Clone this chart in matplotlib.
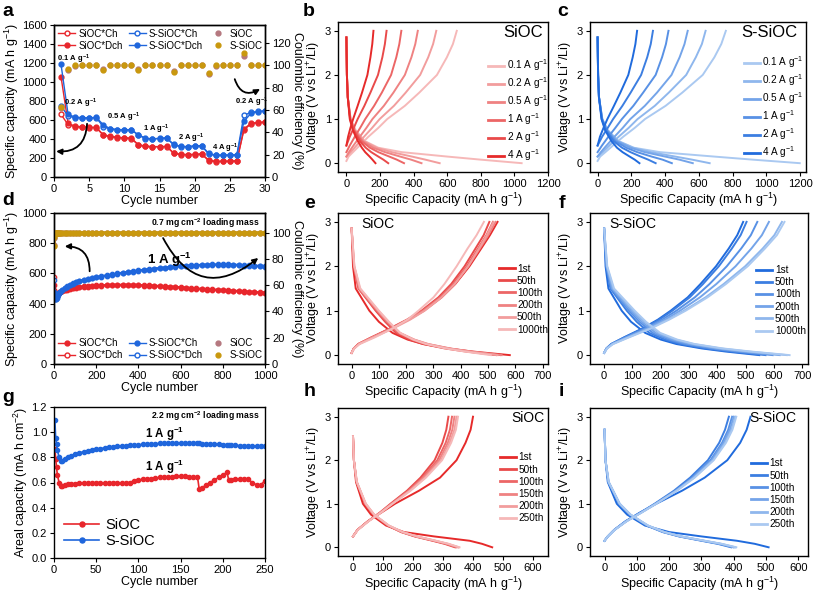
import numpy as np
import matplotlib
matplotlib.use("Agg")
import matplotlib.pyplot as plt
from matplotlib.lines import Line2D

NA = np.nan

# ---------------- panel a : rate test ----------------
rate_cycles = [1, 2, 3, 4, 5, 6, 7, 8, 9, 10, 11, 12, 13, 14, 15, 16, 17, 18, 19, 20,
               21, 22, 23, 24, 25, 26, 27, 28, 29, 30]
sioc_ch_a = [660, 550, 530, 525, 520, 520, 440, 425, 415, 410, 405, 335, 322, 318, 318,
             320, 250, 236, 235, 236, 240, 172, 162, 164, 165, 168, 495, 560, 572, 575]
sioc_dch_a = [1055, 565, 535, 528, 522, 522, 445, 428, 418, 412, 408, 340, 325, 320, 320,
              322, 255, 238, 236, 238, 242, 178, 165, 165, 166, 170, 505, 565, 575, 578]
ssioc_ch_a = [750, 640, 625, 622, 620, 625, 530, 505, 498, 495, 495, 440, 405, 400, 405,
              410, 340, 318, 318, 325, 328, 240, 228, 228, 230, 232, 650, 680, 690, 695]
ssioc_dch_a = [1185, 660, 630, 625, 622, 628, 550, 508, 500, 497, 497, 445, 408, 402, 407,
               412, 345, 322, 320, 327, 330, 248, 230, 230, 232, 235, 585, 670, 688, 694]
ce_sioc_a = [62, 96, 99, 100, 100, 100, 97, 100, 100, 100, 100, 97, 100, 100, 100,
             100, 95, 100, 100, 100, 100, 92, 99, 100, 100, 100, 108, 100, 100, 100]
ce_ssioc_a = [63, 97, 100, 100, 100, 100, 96, 100, 100, 100, 100, 96, 100, 100, 100,
              100, 94, 100, 100, 100, 100, 93, 100, 100, 100, 100, 111, 100, 100, 100]
rate_notes = ['0.1 A g$^{-1}$', '0.2 A g$^{-1}$', '0.5 A g$^{-1}$', '1 A g$^{-1}$',
              '2 A g$^{-1}$', '4 A g$^{-1}$', '0.2 A g$^{-1}$']
rate_note_x = [0.4, 1.4, 7.6, 12.7, 17.6, 22.4, 25.7]
rate_note_y = [1240, 780, 630, 500, 410, 300, 790]

# ---------------- panel d : long cycling, 0.7 mg ----------------
long_cycles = [1, 2, 3, 5, 8, 12, 16, 20, 25, 30, 40, 50, 60, 75, 90, 105, 120, 140, 160, 180,
               200, 225, 250, 275, 300, 325, 350, 375, 400, 425, 450, 475, 500, 525, 550, 575,
               600, 625, 650, 675, 700, 725, 750, 775, 800, 825, 850, 875, 900, 925, 950, 975, 1000]
sioc_ch_d = [520, 470, 452, 442, 443, 450, 458, 465, 471, 476, 483, 489, 493, 498, 502, 505, 508,
             511, 513, 515, 517, 518, 520, 521, 522, 522, 522, 521, 520, 519, 517, 516, 514, 512,
             510, 508, 505, 503, 500, 498, 495, 493, 491, 489, 487, 485, 483, 481, 478, 476, 474,
             472, 470]
sioc_dch_d = [575, 490, 460, 446, 446, 453, 461, 468, 474, 479, 486, 492, 496, 501, 505, 508, 511,
              514, 516, 518, 520, 521, 523, 524, 525, 525, 525, 524, 523, 522, 520, 519, 517, 515,
              513, 511, 508, 506, 503, 501, 498, 496, 494, 492, 490, 488, 486, 484, 481, 479, 477,
              475, 473]
ssioc_ch_d = [480, 450, 438, 428, 430, 440, 450, 458, 467, 476, 490, 502, 511, 522, 532, 540, 547,
              554, 561, 567, 573, 579, 585, 590, 597, 602, 607, 612, 617, 621, 625, 629, 633, 636,
              640, 643, 646, 648, 650, 652, 654, 655, 656, 657, 657, 656, 655, 654, 652, 650, 649,
              647, 645]
ssioc_dch_d = [555, 470, 445, 431, 433, 443, 453, 461, 470, 479, 493, 505, 514, 525, 535, 543, 550,
               557, 564, 570, 576, 582, 588, 593, 600, 605, 610, 615, 620, 624, 628, 632, 636, 639,
               643, 646, 649, 651, 653, 655, 657, 658, 659, 660, 660, 659, 658, 657, 655, 653, 652,
               650, 648]
ce_sioc_d = [91, 96, 99, 99.5, 100, 100, 100, 100, 100, 100, 100, 100, 100, 100, 100, 100, 100,
             100, 100, 100, 100, 100, 100, 100, 100, 100, 100, 100, 100, 100, 100, 100, 100, 100,
             100, 100, 100, 100, 100, 100, 100, 100, 100, 100, 100, 100, 100, 100, 100, 100, 100,
             100, 100]
ce_ssioc_d = [89.6, 97, 99, 99.6, 100, 100, 100, 100, 100, 100, 100, 100, 100, 100, 100, 100, 100,
              100, 100, 100, 100, 100, 100, 100, 100, 100, 100, 100, 100, 100, 100, 100, 100, 100,
              100, 100, 100, 100, 100, 100, 100, 100, 100, 100, 100, 100, 100, 100, 100, 100, 100,
              100, 100]

# ---------------- panel g : areal capacity, 2.2 mg ----------------
areal_cycles = [1, 2, 3, 4, 6, 8, 10, 13, 16, 20, 25, 30, 35, 40, 45, 50, 55, 60, 65, 70, 75,
                80, 85, 90, 95, 100, 105, 110, 115, 120, 125, 130, 135, 140, 145, 150, 155, 160,
                165, 170, 172, 175, 180, 185, 190, 195, 200, 205, 207, 210, 215, 220, 225, 230,
                235, 240, 245, 250]
sioc_g = [0.87, 0.79, 0.72, 0.66, 0.60, 0.575, 0.575, 0.58, 0.585, 0.59,
          0.59, 0.595, 0.595, 0.595, 0.595, 0.60, 0.60, 0.595, 0.595, 0.60, 0.60, 0.595, 0.598,
          0.60, 0.615, 0.62, 0.625, 0.63, 0.63, 0.635, 0.64, 0.64, 0.645, 0.645, 0.65, 0.65,
          0.648, 0.645, 0.645, 0.645,
          0.55,
          0.555, 0.58, 0.60, 0.62, 0.64, 0.66, 0.68,
          0.62,
          0.62, 0.625, 0.63, 0.63, 0.625, 0.60, 0.58, 0.58, 0.615]
ssioc_g = [1.10, 0.95, 0.905, 0.86, 0.80, 0.77, 0.77, 0.785, 0.80, 0.81,
           0.825, 0.835, 0.845, 0.85, 0.86, 0.865, 0.87, 0.875, 0.88, 0.885, 0.887, 0.89, 0.893,
           0.895, 0.898, 0.90, 0.902, 0.905, 0.907, 0.908, 0.91, 0.91, 0.912, 0.912, 0.912,
           0.912, 0.912, 0.911, 0.91, 0.91,
           0.91,
           0.909, 0.908, 0.907, 0.905, 0.903, 0.90, 0.899,
           0.898,
           0.897, 0.895, 0.893, 0.892, 0.89, 0.89, 0.888, 0.888, 0.887]

# ---------------- voltage profiles ----------------
# charge curves are read at these voltages, discharge curves at the next lists
ch_volts = [0.05, 0.15, 0.25, 0.4, 0.6, 0.8, 1.0, 1.3, 1.6, 2.0, 2.4, 2.7, 3.0]
dis_volts = [2.85, 2.0, 1.5, 1.0, 0.75, 0.5, 0.35, 0.25, 0.15, 0.08, 0.0]
dis_volts_h = [2.55, 2.0, 1.5, 1.0, 0.75, 0.5, 0.35, 0.25, 0.15, 0.08, 0.0]
dis_volts_i = [2.7, 2.0, 1.5, 1.0, 0.75, 0.5, 0.35, 0.25, 0.15, 0.08, 0.0]

rate_labels = ['0.1 A g$^{-1}$', '0.2 A g$^{-1}$', '0.5 A g$^{-1}$', '1 A g$^{-1}$',
               '2 A g$^{-1}$', '4 A g$^{-1}$']
b_charge = [[0, 13, 39, 79, 131, 190, 243, 348, 434, 539, 598, 634, 657],
            [NA, 0, 25, 60, 105, 153, 198, 283, 353, 439, 487, 516, 535],
            [NA, 0, 15, 42, 80, 119, 155, 223, 280, 348, 387, 410, 425],
            [NA, NA, 0, 20, 50, 82, 112, 165, 211, 266, 297, 315, 327],
            [NA, NA, NA, 0, 20, 44, 67, 107, 143, 188, 214, 229, 239],
            [NA, NA, NA, 0, 10, 24, 40, 67, 93, 125, 143, 154, 161]]
b_discharge = [[0, 3, 8, 25, 55, 110, 190, 330, 600, 800, 1043],
               [0, 3, 8, 25, 50, 105, 180, 270, 390, 470, 555],
               [0, 3, 8, 24, 48, 98, 160, 230, 320, 385, 447],
               [0, 3, 8, 23, 45, 90, 140, 190, 255, 300, 343],
               [0, 3, 8, 22, 42, 80, 115, 148, 190, 220, 249],
               [0, 3, 8, 20, 38, 68, 92, 112, 138, 155, 173]]
c_charge = [[0, 15, 46, 91, 152, 220, 281, 403, 502, 623, 692, 733, 760],
            [NA, 0, 30, 70, 125, 184, 237, 339, 422, 525, 582, 618, 640],
            [NA, 0, 19, 53, 100, 149, 194, 280, 352, 438, 486, 515, 534],
            [NA, NA, 0, 26, 64, 105, 144, 212, 270, 344, 382, 405, 420],
            [NA, NA, NA, 0, 27, 60, 92, 147, 196, 258, 294, 315, 328],
            [NA, NA, NA, 0, 14, 35, 58, 97, 135, 182, 208, 224, 234]]
c_discharge = [[0, 3, 8, 28, 60, 125, 215, 370, 690, 920, 1198],
               [0, 3, 8, 28, 58, 120, 210, 315, 460, 560, 664],
               [0, 3, 8, 27, 55, 115, 195, 280, 400, 485, 564],
               [0, 3, 8, 26, 52, 105, 170, 235, 320, 385, 440],
               [0, 3, 8, 25, 48, 95, 145, 195, 255, 300, 344],
               [0, 3, 8, 23, 44, 82, 115, 148, 190, 220, 248]]

long_labels = ['1st', '50th', '100th', '200th', '500th', '1000th']
e_charge = [[0, 8, 25, 75, 145, 210, 265, 330, 380, 432, 475, 507, 535],
            [0, 8, 24, 72, 140, 203, 256, 318, 365, 414, 454, 484, 505],
            [0, 8, 25, 74, 143, 207, 260, 323, 372, 422, 463, 494, 518],
            [0, 8, 25, 75, 145, 210, 264, 328, 377, 428, 470, 501, 528],
            [0, 9, 27, 80, 152, 215, 268, 330, 378, 427, 467, 496, 520],
            [0, 10, 30, 85, 150, 205, 245, 300, 340, 385, 425, 458, 485]]
e_discharge = [[0, 5, 15, 65, 100, 150, 205, 262, 352, 445, 580],
               [0, 8, 25, 88, 123, 163, 212, 262, 342, 420, 530],
               [0, 8, 26, 92, 128, 170, 222, 273, 355, 433, 545],
               [0, 9, 28, 95, 132, 175, 228, 280, 362, 440, 550],
               [0, 10, 30, 98, 135, 178, 230, 280, 358, 430, 535],
               [0, 10, 32, 100, 137, 178, 225, 272, 345, 415, 510]]
f_charge = [[0, 8, 25, 70, 135, 190, 235, 295, 340, 395, 440, 470, 491],
            [0, 8, 25, 72, 138, 195, 241, 302, 349, 405, 451, 482, 503],
            [0, 8, 26, 76, 145, 205, 255, 320, 372, 433, 484, 518, 541],
            [0, 9, 28, 80, 152, 215, 268, 338, 396, 464, 520, 557, 582],
            [0, 10, 30, 85, 160, 225, 282, 358, 422, 498, 560, 601, 628],
            [0, 10, 32, 88, 165, 230, 288, 365, 430, 507, 568, 610, 637]]
f_discharge = [[0, 5, 15, 62, 95, 145, 200, 255, 345, 430, 548],
               [0, 7, 22, 80, 115, 160, 215, 270, 360, 450, 570],
               [0, 8, 25, 88, 125, 172, 228, 285, 378, 470, 595],
               [0, 9, 28, 95, 133, 182, 240, 300, 395, 490, 620],
               [0, 10, 32, 102, 142, 192, 252, 314, 412, 510, 645],
               [0, 11, 35, 108, 148, 198, 258, 320, 420, 520, 655]]

hi_labels = ['1st', '50th', '100th', '150th', '200th', '250th']
h_charge = [[NA, NA, 0, 15, 50, 95, 140, 220, 290, 345, 375, 392, 400],
            [NA, NA, 0, 15, 50, 90, 125, 180, 225, 272, 298, 311, 318],
            [NA, NA, 0, 15, 50, 91, 127, 184, 231, 281, 309, 323, 330],
            [NA, NA, 0, 15, 51, 92, 129, 187, 235, 287, 316, 331, 338],
            [NA, NA, 0, 16, 52, 93, 131, 190, 240, 293, 322, 338, 345],
            [NA, NA, 0, 16, 52, 94, 132, 192, 243, 297, 327, 343, 350]]
h_discharge = [[0, 3, 10, 33, 60, 110, 170, 270, 389, 430, 464],
               [0, 3, 12, 40, 68, 115, 160, 205, 265, 305, 340],
               [0, 3, 12, 41, 69, 117, 162, 208, 269, 310, 345],
               [0, 3, 12, 42, 70, 118, 164, 211, 273, 314, 350],
               [0, 3, 13, 42, 70, 119, 165, 212, 275, 316, 352],
               [0, 3, 13, 43, 71, 120, 166, 214, 277, 319, 355]]
i_charge = [[NA, 0, 10, 30, 65, 110, 160, 240, 310, 380, 420, 440, 452],
            [NA, 0, 10, 30, 67, 112, 155, 215, 265, 320, 355, 373, 385],
            [NA, 0, 10, 30, 67, 113, 157, 219, 271, 328, 364, 383, 395],
            [NA, 0, 10, 31, 68, 114, 158, 221, 274, 332, 368, 388, 400],
            [NA, 0, 10, 31, 68, 115, 160, 223, 277, 336, 373, 393, 405],
            [NA, 0, 10, 31, 69, 115, 160, 224, 279, 338, 376, 396, 408]]
i_discharge = [[0, 3, 10, 38, 70, 125, 200, 300, 410, 465, 508],
               [0, 3, 12, 45, 78, 130, 180, 230, 300, 350, 392],
               [0, 3, 12, 46, 79, 132, 182, 233, 304, 355, 398],
               [0, 3, 12, 46, 80, 133, 184, 235, 307, 358, 402],
               [0, 3, 13, 47, 80, 134, 185, 237, 309, 361, 405],
               [0, 3, 13, 47, 81, 135, 186, 238, 311, 363, 408]]

RED = '#e8262c'
BLUE = '#1f66dc'
GOLD = '#c9980e'
MAUVE = '#b5787f'
reds = ['#f6b8b8', '#f29d9d', '#ef8282', '#ec6666', '#e94a4a', '#e62a2a']
blues = ['#aac9f1', '#8fb7ed', '#74a4e9', '#5891e5', '#3c7ee1', '#206bdd']

W, H = 813, 593

plt.rcParams['font.family'] = ['Liberation Sans', 'DejaVu Sans']
plt.rcParams['mathtext.default'] = 'regular'
plt.rcParams['axes.linewidth'] = 1.0
plt.rcParams['xtick.labelsize'] = 8
plt.rcParams['ytick.labelsize'] = 8
plt.rcParams['xtick.major.size'] = 3
plt.rcParams['ytick.major.size'] = 3
plt.rcParams['xtick.major.pad'] = 2
plt.rcParams['ytick.major.pad'] = 2
plt.rcParams['axes.labelsize'] = 9
plt.rcParams['axes.labelpad'] = 1


# pixel box (left, top, right, bottom) -> figure fraction rect
def box(l, t, r, b):
    return [l / W, 1 - b / H, (r - l) / W, (b - t) / H]


# curved black arrow used in a and d
def arrow(ax, start, end, rad):
    ax.annotate('', xy=end, xytext=start,
                arrowprops=dict(arrowstyle='-|>', color='black', lw=1.3, mutation_scale=8,
                                shrinkA=0, shrinkB=0, connectionstyle=f'arc3,rad={rad}'))


# charge + discharge voltage curves for one panel
def draw_profiles(ax, charge, discharge, d_volts, colors, labels, xlim, xticks,
                  name, name_pos, name_size, leg_anchor):
    for ch, dis, col, lab in zip(charge, discharge, colors, labels):
        ax.plot(ch, ch_volts, color=col, lw=1.4, label=lab)
        ax.plot(dis, d_volts, color=col, lw=1.4)
    ax.set_xlim(*xlim)
    ax.set_ylim(-0.2, 3.2)
    ax.set_xticks(xticks)
    ax.set_yticks([0, 1, 2, 3])
    ax.set_xlabel('Specific Capacity (mA h g$^{-1}$)')
    ax.set_ylabel('Voltage (V vs Li$^{+}$/Li)')
    ha = 'right' if name_pos[0] > 0.5 else 'left'
    ax.text(name_pos[0], name_pos[1], name, transform=ax.transAxes, ha=ha, va='center',
            fontsize=name_size)
    leg = ax.legend(loc='center right', bbox_to_anchor=leg_anchor, frameon=False,
                    fontsize=7.2, handlelength=1.6, handletextpad=0.25, labelspacing=0.22,
                    borderaxespad=0, borderpad=0)
    for ln in leg.get_lines():
        ln.set_linewidth(2)


def panel_a(fig):
    ax = fig.add_axes(box(54, 25, 265, 177))
    ax.plot(rate_cycles, sioc_ch_a, '-o', color=RED, mfc='white', ms=3.5, mew=1, lw=1)
    ax.plot(rate_cycles, sioc_dch_a, '-o', color=RED, ms=3.5, lw=1)
    ax.plot(rate_cycles, ssioc_ch_a, '-o', color=BLUE, mfc='white', ms=3.5, mew=1, lw=1)
    ax.plot(rate_cycles, ssioc_dch_a, '-o', color=BLUE, ms=3.5, lw=1)
    ax.set_xlim(0, 30)
    ax.set_ylim(0, 1600)
    ax.set_xticks([0, 5, 10, 15, 20, 25, 30])
    ax.set_yticks(range(0, 1601, 200))
    ax.set_xlabel('Cycle number')
    ax.set_ylabel('Specific capacity (mA h g$^{-1}$)')
    for txt, x, y in zip(rate_notes, rate_note_x, rate_note_y):
        ax.text(x, y, txt, fontsize=5.5, fontweight='bold', ha='left', va='center')
    arrow(ax, (4.7, 560), (0.3, 270), -0.5)
    arrow(ax, (25.7, 1030), (29.3, 926), 0.6)

    ax2 = ax.twinx()
    ax2.plot(rate_cycles, ce_sioc_a, 'o', color=MAUVE, ms=3.5)
    ax2.plot(rate_cycles, ce_ssioc_a, 'o', color=GOLD, ms=3.5)
    ax2.set_ylim(0, 136)
    ax2.set_yticks(range(0, 121, 20))
    ax2.set_ylabel('Coulombic efficiency (%)', rotation=270, labelpad=9)

    handles = [Line2D([], [], color=RED, marker='o', mfc='white', ms=3.5, lw=1),
               Line2D([], [], color=RED, marker='o', ms=3.5, lw=1),
               Line2D([], [], color=BLUE, marker='o', mfc='white', ms=3.5, lw=1),
               Line2D([], [], color=BLUE, marker='o', ms=3.5, lw=1),
               Line2D([], [], color=MAUVE, marker='o', ms=3.5, lw=0),
               Line2D([], [], color=GOLD, marker='o', ms=3.5, lw=0)]
    names = ['SiOC*Ch', 'SiOC*Dch', 'S-SiOC*Ch', 'S-SiOC*Dch', 'SiOC', 'S-SiOC']
    ax2.legend(handles, names, ncol=3, loc='upper left', bbox_to_anchor=(0.0, 1.0),
               frameon=False, fontsize=7, handlelength=1.8, handletextpad=0.3,
               columnspacing=0.6, labelspacing=0.2, borderaxespad=0.3, borderpad=0.1)


def panel_d(fig):
    ax = fig.add_axes(box(54, 213, 265, 364))
    ax.plot(long_cycles, sioc_dch_d, '-o', color=RED, mfc='white', ms=3.2, mew=0.9, lw=1.5)
    ax.plot(long_cycles, sioc_ch_d, '-o', color=RED, ms=3.2, lw=1.5)
    ax.plot(long_cycles, ssioc_dch_d, '-o', color=BLUE, mfc='white', ms=3.2, mew=0.9, lw=1.5)
    ax.plot(long_cycles, ssioc_ch_d, '-o', color=BLUE, ms=3.2, lw=1.5)
    ax.set_xlim(0, 1000)
    ax.set_ylim(0, 1000)
    ax.set_xticks(range(0, 1001, 200))
    ax.set_yticks(range(0, 1001, 200))
    ax.set_xlabel('Cycle number')
    ax.set_ylabel('Specific capacity (mA h g$^{-1}$)')
    ax.text(976, 934, '0.7 mg cm$^{-2}$ loading mass', fontsize=6.2, fontweight='bold',
            ha='right', va='center')
    ax.text(440, 690, '1 A g$^{-1}$', fontsize=9.5, fontweight='bold', ha='left', va='center')
    arrow(ax, (169, 614), (51, 779), 0.5)
    arrow(ax, (517, 834), (968, 702), 0.6)

    ax2 = ax.twinx()
    ax2.plot(long_cycles, ce_sioc_d, 'o-', color=MAUVE, ms=3.5, lw=2)
    ax2.plot(long_cycles, ce_ssioc_d, 'o-', color=GOLD, ms=3.5, lw=2)
    ax2.set_ylim(0, 115)
    ax2.set_yticks(range(0, 101, 20))
    ax2.set_ylabel('Coulombic efficiency (%)', rotation=270, labelpad=9)

    handles = [Line2D([], [], color=RED, marker='o', ms=3.5, lw=1),
               Line2D([], [], color=RED, marker='o', mfc='white', ms=3.5, lw=1),
               Line2D([], [], color=BLUE, marker='o', ms=3.5, lw=1),
               Line2D([], [], color=BLUE, marker='o', mfc='white', ms=3.5, lw=1),
               Line2D([], [], color=MAUVE, marker='o', ms=3.5, lw=0),
               Line2D([], [], color=GOLD, marker='o', ms=3.5, lw=0)]
    names = ['SiOC*Ch', 'SiOC*Dch', 'S-SiOC*Ch', 'S-SiOC*Dch', 'SiOC', 'S-SiOC']
    ax2.legend(handles, names, ncol=3, loc='lower left', bbox_to_anchor=(0.0, 0.0),
               frameon=False, fontsize=7, handlelength=1.8, handletextpad=0.3,
               columnspacing=0.6, labelspacing=0.2, borderaxespad=0.3, borderpad=0.1)


def panel_g(fig):
    ax = fig.add_axes(box(54, 407, 265, 558))
    ax.plot(areal_cycles, sioc_g, '-o', color=RED, ms=3, lw=1.2, label='SiOC')
    ax.plot(areal_cycles, ssioc_g, '-o', color=BLUE, ms=3, lw=1.2, label='S-SiOC')
    ax.set_xlim(0, 250)
    ax.set_ylim(0, 1.2)
    ax.set_xticks(range(0, 251, 50))
    ax.set_yticks([0.0, 0.2, 0.4, 0.6, 0.8, 1.0, 1.2])
    ax.set_yticklabels(['0.0', '0.2', '0.4', '0.6', '0.8', '1.0', '1.2'])
    ax.set_xlabel('Cycle number')
    ax.set_ylabel('Areal capacity (mA h cm$^{-2}$)')
    ax.text(244, 1.127, '2.2 mg cm$^{-2}$ loading mass', fontsize=6.2, fontweight='bold',
            ha='right', va='center')
    ax.text(108, 0.99, '1 A g$^{-1}$', fontsize=8.3, fontweight='bold', ha='left', va='center')
    ax.text(108, 0.725, '1 A g$^{-1}$', fontsize=8.3, fontweight='bold', ha='left', va='center')
    ax.legend(loc='lower left', frameon=False, fontsize=10.5, handlelength=2.4,
              handletextpad=0.4, labelspacing=0.1, borderaxespad=0.3, markerscale=1.2)


def main():
    fig = plt.figure(figsize=(W / 100, H / 100), dpi=100)

    panel_a(fig)
    panel_d(fig)
    panel_g(fig)

    ax = fig.add_axes(box(338, 22, 548, 172))
    draw_profiles(ax, b_charge, b_discharge, dis_volts, reds, rate_labels, (-50, 1200),
                  range(0, 1201, 200), 'SiOC', (0.975, 0.93), 12, (1.0, 0.41))
    ax = fig.add_axes(box(590, 22, 806, 172))
    draw_profiles(ax, c_charge, c_discharge, dis_volts, blues, rate_labels, (-45, 1235),
                  range(0, 1201, 200), 'S-SiOC', (0.96, 0.93), 12, (0.99, 0.43))
    ax = fig.add_axes(box(338, 213, 548, 364))
    draw_profiles(ax, e_charge, e_discharge, dis_volts, reds[::-1], long_labels, (-50, 720),
                  range(0, 701, 100), 'SiOC', (0.11, 0.93), 10, (1.0, 0.43))
    ax = fig.add_axes(box(590, 213, 808, 364))
    draw_profiles(ax, f_charge, f_discharge, dis_volts, blues[::-1], long_labels, (-50, 720),
                  range(0, 701, 100), 'S-SiOC', (0.09, 0.93), 10, (0.99, 0.42))
    ax = fig.add_axes(box(338, 408, 548, 556))
    draw_profiles(ax, h_charge, h_discharge, dis_volts_h, reds[::-1], hi_labels, (-50, 650),
                  range(0, 601, 100), 'SiOC', (0.985, 0.93), 10, (0.98, 0.46))
    ax = fig.add_axes(box(590, 408, 808, 556))
    draw_profiles(ax, i_charge, i_discharge, dis_volts_i, blues[::-1], hi_labels, (-45, 630),
                  range(0, 601, 100), 'S-SiOC', (0.945, 0.93), 10, (0.94, 0.42))

    # panel letters
    for letter, x, y in [('a', 2, 11), ('b', 303, 11), ('c', 557, 11), ('d', 2, 200),
                         ('e', 304, 203), ('f', 559, 203), ('g', 2, 397), ('h', 304, 391),
                         ('i', 559, 392)]:
        fig.text(x / W, 1 - y / H, letter, fontsize=14, fontweight='bold', ha='left', va='center')

    fig.savefig('out.png', dpi=100)


main()
